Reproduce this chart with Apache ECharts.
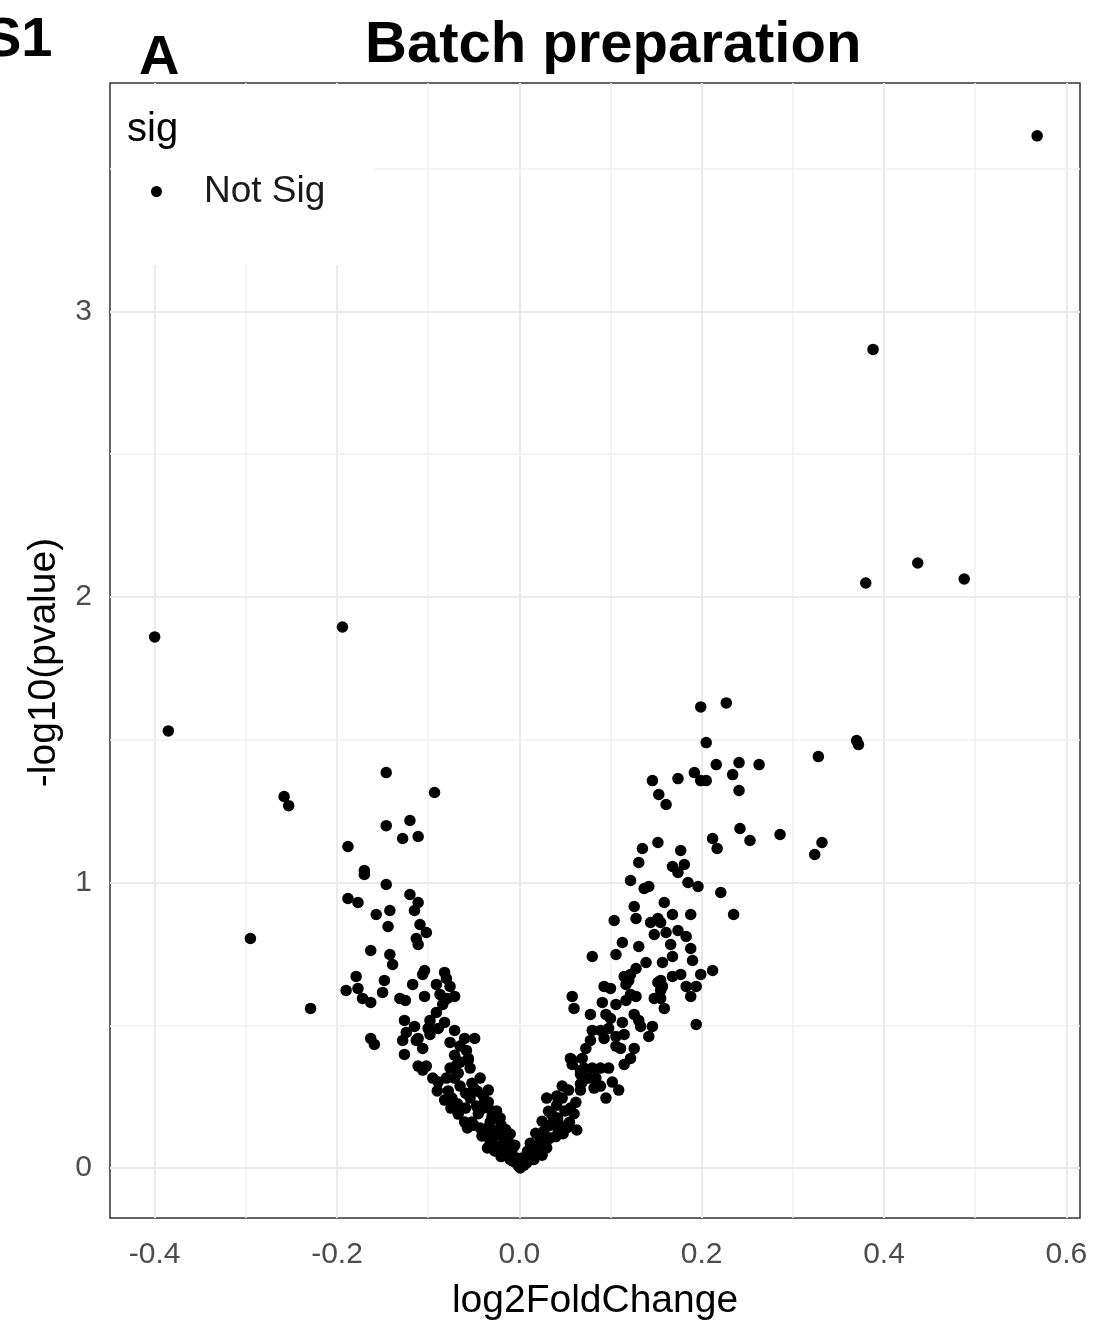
<!DOCTYPE html>
<html>
<head>
<meta charset="utf-8">
<script src="https://cdn.jsdelivr.net/npm/echarts@6/dist/echarts.min.js"></script>
<style>
html,body{margin:0;padding:0;background:#fff;}
#chart{width:1094px;height:1326px;}
</style>
</head>
<body>
<div id="chart"></div>
<script>
// ---- data ----
const xTicks = [-0.4, -0.2, 0.0, 0.2, 0.4, 0.6];
const xMinorGrid = [-0.3, -0.1, 0.1, 0.3, 0.5];
const yTicks = [0, 1, 2, 3];
const yMinorGrid = [0.5, 1.5, 2.5, 3.5];
const seriesName = 'Not Sig';

// outliers and sparse points
const ptsOutliers = [
 [0.568,3.615],[0.388,2.867],[0.380,2.049],[0.437,2.119],[0.488,2.063],[-0.400,1.860],[-0.385,1.531],
 [-0.194,1.895],[-0.258,1.301],[-0.253,1.269],[-0.295,0.804],[-0.229,0.559],[0.199,1.615],[0.227,1.629],
 [0.205,1.490],[0.328,1.441],[0.370,1.497],[0.372,1.483],[0.324,1.098],[0.332,1.140],[0.286,1.168],
 [0.263,1.413],[0.241,1.420],[0.234,1.378],[0.241,1.322],[0.242,1.189],[0.253,1.147],[0.216,1.413],
 [0.192,1.385],[0.199,1.357],[0.205,1.357],[0.174,1.364],[0.146,1.357],[0.153,1.308],[0.161,1.273],
 [0.212,1.154],[0.217,1.119],[0.221,0.965],[0.235,0.888],[0.212,0.692],[0.194,0.503]
];
// right arm, middle
const ptsRightMid = [
 [0.152,1.140],[0.135,1.119],[0.177,1.112],[0.131,1.070],[0.168,1.056],[0.181,1.063],[0.174,1.035],
 [0.122,1.007],[0.137,0.979],[0.142,0.986],[0.185,1.000],[0.196,0.986],[0.126,0.916],[0.159,0.930],
 [0.104,0.867],[0.128,0.874],[0.144,0.860],[0.152,0.874],[0.155,0.860],[0.168,0.888],[0.188,0.888],
 [0.148,0.818],[0.161,0.825],[0.174,0.832],[0.183,0.811],[0.113,0.790],[0.131,0.776],[0.166,0.783],
 [0.188,0.769],[0.106,0.748],[0.080,0.741],[0.168,0.741],[0.190,0.727],[0.139,0.720],[0.157,0.720],
 [0.128,0.699],[0.199,0.678],[0.115,0.671],[0.120,0.657],[0.168,0.671],[0.177,0.678],[0.155,0.657],
 [0.157,0.636],[0.093,0.636],[0.100,0.629],[0.183,0.636],[0.194,0.636],[0.058,0.601]
];
// right arm, lower
const ptsRightLow = [
 [0.060,0.559],[0.078,0.538],[0.091,0.580],[0.122,0.678],[0.117,0.643],[0.122,0.608],[0.128,0.601],
 [0.106,0.573],[0.117,0.587],[0.152,0.650],[0.155,0.622],[0.148,0.594],[0.159,0.559],[0.155,0.594],
 [0.188,0.601],[0.095,0.538],[0.100,0.524],[0.113,0.510],[0.126,0.538],[0.131,0.517],[0.133,0.496],
 [0.146,0.496],[0.142,0.461],[0.080,0.482],[0.089,0.482],[0.098,0.489],[0.078,0.447],[0.093,0.454],
 [0.106,0.461],[0.115,0.468],[0.126,0.419],[0.122,0.384],[0.111,0.419],[0.073,0.419],[0.069,0.384],
 [0.056,0.384],[0.058,0.363],[0.067,0.342],[0.080,0.350],[0.089,0.350],[0.098,0.350],[0.115,0.363],
 [0.102,0.301],[0.109,0.273],[0.095,0.245],[0.084,0.315],[0.076,0.315],[0.067,0.329],[0.067,0.294],
 [0.082,0.280],[0.047,0.287],[0.030,0.245],[0.041,0.252],[0.063,0.133],[0.106,0.427]
];
// right of zero, near the bottom of the V
const ptsRightZero = [
 [-0.016,0.094],[-0.012,0.070],[-0.007,0.035],[0.001,0.000],[0.005,0.010],[0.010,0.035],[0.014,0.059],
 [0.019,0.080],[0.023,0.105],[0.027,0.129],[0.025,0.164],[0.034,0.150],[0.032,0.199],[0.036,0.185],
 [0.042,0.175],[0.045,0.150],[0.043,0.129],[0.052,0.140],[0.041,0.220],[0.047,0.245],[0.054,0.273],
 [0.056,0.210],[0.067,0.273],[0.069,0.301],[0.071,0.350],[0.089,0.287],[0.058,0.378],
 [-0.021,0.175],[-0.021,0.115],[0.009,0.059],[0.021,0.052],[0.012,0.087],[0.029,0.087],[0.018,0.122],
 [0.034,0.105],[-0.003,0.017],[0.003,0.035],
 [0.030,0.070],[0.025,0.045],[0.040,0.110],[0.048,0.120],[0.055,0.160],[0.060,0.190],[0.038,0.160],
 [0.050,0.200],[0.062,0.230],[0.016,0.030],[0.008,0.018]
];
// left of zero, near the bottom of the V
const ptsLeftZero = [
 [-0.111,0.357],[-0.106,0.343],[-0.095,0.315],[-0.089,0.301],[-0.076,0.350],[-0.071,0.315],[-0.065,0.371],
 [-0.056,0.378],[-0.054,0.350],[-0.043,0.315],[-0.052,0.297],[-0.034,0.273],[-0.065,0.287],[-0.082,0.238],
 [-0.074,0.245],[-0.067,0.189],[-0.059,0.210],[-0.054,0.245],[-0.047,0.217],[-0.038,0.238],[-0.034,0.210],
 [-0.052,0.161],[-0.043,0.140],[-0.032,0.161],[-0.025,0.175],[-0.041,0.112],[-0.030,0.119],[-0.021,0.133],
 [-0.032,0.091],[-0.021,0.077],[-0.012,0.091],[-0.016,0.049],[-0.008,0.063],[-0.003,0.035],[-0.001,0.007],
 [-0.010,0.119],[-0.059,0.262],[-0.046,0.269],[-0.060,0.161],[-0.034,0.231],[-0.080,0.315],[-0.043,0.203],
 [-0.050,0.150],[-0.035,0.140],[-0.029,0.105],[-0.013,0.059],[-0.007,0.024],
 [-0.075,0.210],[-0.068,0.225],[-0.045,0.190],[-0.025,0.200],[-0.030,0.180],[-0.057,0.140],[-0.020,0.150],
 [-0.015,0.135],[-0.026,0.130],[-0.035,0.070],[-0.027,0.060],[-0.005,0.080],[-0.020,0.040],[-0.010,0.030],
 [-0.090,0.270],[-0.078,0.270],[-0.050,0.280],[-0.040,0.255]
];
// left arm, middle
const ptsLeftMid = [
 [-0.179,0.671],[-0.190,0.622],[-0.177,0.629],[-0.172,0.594],[-0.163,0.580],[-0.148,0.657],[-0.150,0.615],
 [-0.139,0.713],[-0.104,0.692],[-0.106,0.678],[-0.117,0.643],[-0.131,0.594],[-0.125,0.587],[-0.104,0.601],
 [-0.082,0.685],[-0.080,0.664],[-0.091,0.643],[-0.076,0.636],[-0.087,0.608],[-0.071,0.601],[-0.084,0.573],
 [-0.091,0.545],[-0.126,0.517],[-0.098,0.517],[-0.082,0.510],[-0.115,0.496],[-0.100,0.489],[-0.124,0.475],
 [-0.111,0.454],[-0.128,0.447],[-0.163,0.454],[-0.159,0.433],[-0.071,0.482],[-0.049,0.454],[-0.060,0.454],
 [-0.076,0.440],[-0.106,0.419],[-0.126,0.398],[-0.065,0.427],[-0.058,0.412],[-0.102,0.357],[-0.056,0.384],
 [-0.071,0.395],[-0.069,0.360],[-0.067,0.332],[-0.113,0.447],[-0.089,0.489],[-0.098,0.468],[-0.079,0.594]
];
// left arm, upper
const ptsLeftHigh = [
 [-0.146,1.385],[-0.093,1.315],[-0.146,1.199],[-0.120,1.217],[-0.128,1.154],[-0.111,1.161],[-0.188,1.126],
 [-0.170,1.042],[-0.170,1.028],[-0.146,0.993],[-0.188,0.944],[-0.177,0.930],[-0.120,0.958],[-0.111,0.930],
 [-0.115,0.902],[-0.157,0.888],[-0.142,0.902],[-0.144,0.846],[-0.109,0.853],[-0.102,0.825],[-0.113,0.804],
 [-0.111,0.783],[-0.163,0.762],[-0.142,0.748]
];

const allPoints = [].concat(ptsOutliers, ptsRightMid, ptsRightLow, ptsRightZero, ptsLeftZero, ptsLeftMid, ptsLeftHigh);

const FONT = '"Liberation Sans", Arial, Helvetica, sans-serif';
const chart = echarts.init(document.getElementById('chart'), null, {renderer: 'canvas'});

const gridLines = []
  .concat(xTicks.map(v => ({xAxis: v, lineStyle: {color: '#ebebeb', width: 2, type: 'solid'}})))
  .concat(xMinorGrid.map(v => ({xAxis: v, lineStyle: {color: '#f0f0f0', width: 1.5, type: 'solid'}})))
  .concat(yTicks.map(v => ({yAxis: v, lineStyle: {color: '#ebebeb', width: 2, type: 'solid'}})))
  .concat(yMinorGrid.map(v => ({yAxis: v, lineStyle: {color: '#f0f0f0', width: 1.5, type: 'solid'}})));

chart.setOption({
  animation: false,
  backgroundColor: '#ffffff',
  title: {
    text: 'Batch preparation',
    left: 360, top: 12,
    textStyle: {fontFamily: FONT, fontWeight: 'bold', fontSize: 58, color: '#000'}
  },
  grid: {
    left: 110, top: 83, width: 970, height: 1137,
    show: true, borderColor: '#333333', borderWidth: 1.5, backgroundColor: '#ffffff'
  },
  legend: {
    show: true,
    data: [seriesName],
    left: 146, top: 168,
    icon: 'circle', itemWidth: 11, itemHeight: 11,
    z: 20,
    textStyle: {fontFamily: FONT, fontSize: 37, color: '#1a1a1a', padding: [0, 0, 0, 37]}
  },
  xAxis: {
    type: 'value', min: -0.449, max: 0.615,
    name: 'log2FoldChange', nameLocation: 'middle', nameGap: 64,
    nameTextStyle: {fontFamily: FONT, fontSize: 39, color: '#000'},
    axisLine: {show: false},
    axisTick: {show: true, length: 7, lineStyle: {color: '#333333', width: 2}, customValues: xTicks},
    axisLabel: {customValues: xTicks, formatter: v => Number(v).toFixed(1), fontFamily: FONT, fontSize: 30, color: '#4d4d4d', margin: 22},
    splitLine: {show: false}
  },
  yAxis: {
    type: 'value', min: -0.175, max: 3.8,
    name: '-log10(pvalue)', nameLocation: 'middle', nameGap: 46,
    nameTextStyle: {fontFamily: FONT, fontSize: 39, color: '#000', padding: [0, 24, 0, 0]},
    axisLine: {show: false},
    axisTick: {show: true, length: 7, lineStyle: {color: '#333333', width: 2}, customValues: yTicks},
    axisLabel: {customValues: yTicks, formatter: v => String(v), fontFamily: FONT, fontSize: 30, color: '#4d4d4d', margin: 18},
    splitLine: {show: false}
  },
  graphic: [
    {type: 'rect', z: 15, shape: {x: 111, y: 84, width: 263, height: 181}, style: {fill: '#ffffff'}, silent: true},
    {type: 'text', z: 20, x: 127, y: 110, style: {text: 'sig', font: '40px ' + FONT, fill: '#000', textVerticalAlign: 'top'}},
    {type: 'text', z: 20, x: -16, y: 13, style: {text: 'S1', font: 'bold 56px ' + FONT, fill: '#000', textVerticalAlign: 'top'}},
    {type: 'text', z: 20, x: 139, y: 31, style: {text: 'A', font: 'bold 56px ' + FONT, fill: '#000', textVerticalAlign: 'top'}}
  ],
  series: [
    {
      type: 'scatter', name: '__grid', data: [], z: 1, silent: true,
      markLine: {silent: true, z: 1, symbol: ['none', 'none'], label: {show: false}, animation: false, data: gridLines}
    },
    {
      type: 'scatter', name: seriesName, data: allPoints, z: 3,
      symbol: 'circle', symbolSize: 11.5,
      itemStyle: {color: '#000000', opacity: 1}
    }
  ]
});
</script>
</body>
</html>
